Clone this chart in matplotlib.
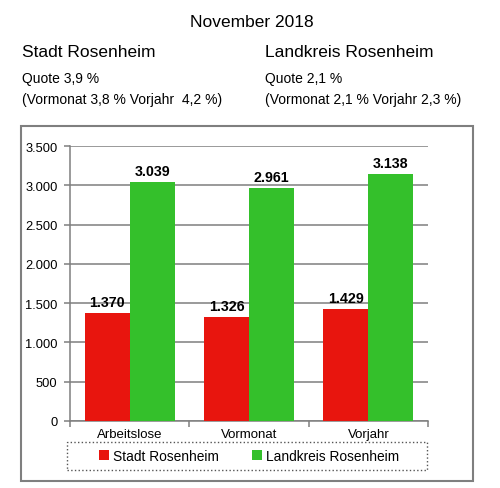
import matplotlib.pyplot as plt
from matplotlib.patches import Rectangle
from matplotlib.ticker import FuncFormatter, FixedLocator

# values
categories = ["Arbeitslose", "Vormonat", "Vorjahr"]
stadt = [1370, 1326, 1429]
landkreis = [3039, 2961, 3138]
series_names = ["Stadt Rosenheim", "Landkreis Rosenheim"]

RED = "#E8150E"
GREEN = "#34C02B"
GRAY = "#7F7F7F"

plt.rcParams["font.family"] = ["Liberation Sans", "DejaVu Sans"]


def de_thousands(v, pos=None):
    return f"{int(round(v)):,}".replace(",", ".")


fig = plt.figure(figsize=(5.0, 4.89), dpi=100)

# header texts
fig.text(0.504, 1 - 27 / 489, "November 2018", ha="center", va="baseline", fontsize=12.5)
fig.text(22 / 500, 1 - 57 / 489, "Stadt Rosenheim", ha="left", va="baseline", fontsize=12.5)
fig.text(265 / 500, 1 - 57 / 489, "Landkreis Rosenheim", ha="left", va="baseline", fontsize=12.5)
fig.text(22 / 500, 1 - 83 / 489, "Quote 3,9 %", fontsize=10, va="baseline")
fig.text(22 / 500, 1 - 104 / 489, "(Vormonat 3,8 % Vorjahr  4,2 %)", fontsize=10, va="baseline")
fig.text(265 / 500, 1 - 83 / 489, "Quote 2,1 %", fontsize=10, va="baseline")
fig.text(265 / 500, 1 - 104 / 489, "(Vormonat 2,1 % Vorjahr 2,3 %)", fontsize=10, va="baseline")

# outer chart frame
fig.patches.append(Rectangle((21 / 500, 7 / 489), 452 / 500, 355 / 489,
                             transform=fig.transFigure, fill=False,
                             edgecolor=GRAY, linewidth=1.5))

ax = fig.add_axes([70 / 500, 67 / 489, 358 / 500, 275 / 489])

x = list(range(len(categories)))
w = 0.377
bars1 = ax.bar([i - w / 2 for i in x], stadt, width=w, color=RED, label=series_names[0], zorder=3)
bars2 = ax.bar([i + w / 2 for i in x], landkreis, width=w, color=GREEN, label=series_names[1], zorder=3)

for bars in (bars1, bars2):
    for b in bars:
        ax.annotate(de_thousands(b.get_height()),
                    (b.get_x() + b.get_width() / 2, b.get_height()),
                    xytext=(0, 3), textcoords="offset points",
                    ha="center", va="bottom", fontsize=10.3, fontweight="bold")

ax.set_ylim(0, 3500)
ax.set_yticks(range(0, 3501, 500))
ax.yaxis.set_major_formatter(FuncFormatter(de_thousands))
ax.grid(axis="y", color=GRAY, linewidth=1.1, zorder=0)
ax.set_xlim(-0.5, len(categories) - 0.5)
ax.set_xticks(x)
ax.set_xticklabels(categories)
ax.xaxis.set_minor_locator(FixedLocator([i - 0.5 for i in range(len(categories) + 1)]))
ax.tick_params(axis="x", which="major", length=0, pad=5, labelsize=9.5)
ax.tick_params(axis="x", which="minor", length=4, color=GRAY, width=1.1)
ax.tick_params(axis="y", length=4, color=GRAY, width=1.1, pad=5, labelsize=9.3)

for s in ("top", "right"):
    ax.spines[s].set_visible(False)
for s in ("left", "bottom"):
    ax.spines[s].set_color(GRAY)
    ax.spines[s].set_linewidth(1.1)

# dotted legend frame
fig.patches.append(Rectangle((67 / 500, 1 - 471 / 489), 360 / 500, 28 / 489,
                             transform=fig.transFigure, fill=False,
                             edgecolor="#555555", linestyle=":", linewidth=1.0))

fig.legend(handles=[bars1, bars2], labels=series_names, ncol=2,
           loc="center", bbox_to_anchor=(249 / 500, 1 - 457 / 489),
           fontsize=9.9, handlelength=0.7, handleheight=0.7,
           handletextpad=0.3, columnspacing=2.4, borderpad=0.2,
           frameon=False)

fig.savefig("out.png", dpi=100)
